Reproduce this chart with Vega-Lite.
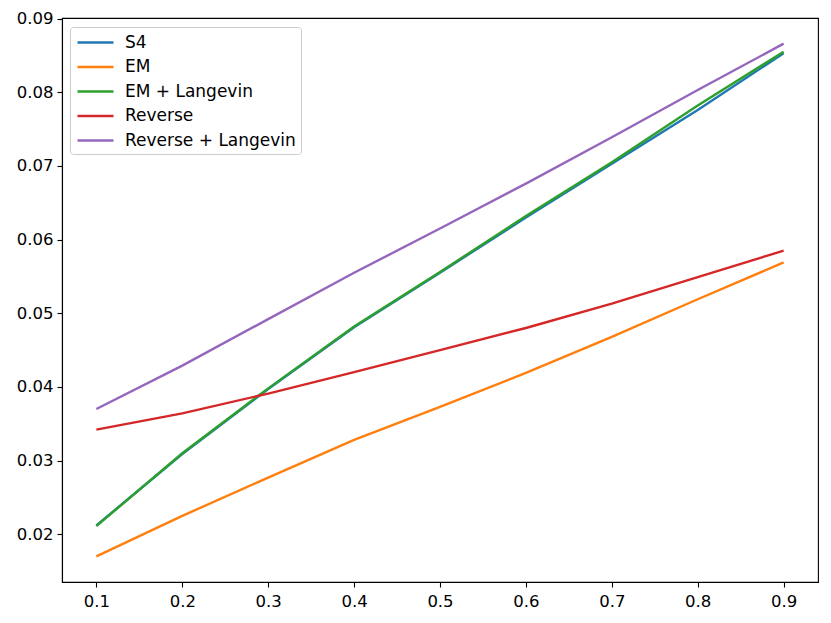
{
  "$schema": "https://vega.github.io/schema/vega-lite/v6.json",
  "width": 756,
  "height": 564,
  "autosize": {"type": "none"},
  "padding": {"left": 62, "top": 18, "right": 13, "bottom": 41},
  "background": "white",
  "config": {
    "font": "DejaVu Sans",
    "view": {"stroke": "#000000", "strokeWidth": 1.1},
    "axis": {
      "domainColor": "#000000",
      "domainWidth": 1.1,
      "tickColor": "#000000",
      "tickWidth": 1.1,
      "tickSize": 5,
      "labelFontSize": 16.5,
      "labelColor": "#000000",
      "labelFont": "DejaVu Sans",
      "labelPadding": 4,
      "grid": false,
      "title": null
    },
    "axisX": {"labelPadding": 6},
    "legend": {
      "labelFont": "DejaVu Sans",
      "labelFontSize": 17,
      "labelColor": "#000000"
    }
  },
  "data": {
    "values": [
      {"x": 0.1, "series": "S4", "y": 0.0212},
      {"x": 0.2, "series": "S4", "y": 0.0309},
      {"x": 0.3, "series": "S4", "y": 0.0397},
      {"x": 0.4, "series": "S4", "y": 0.0481},
      {"x": 0.5, "series": "S4", "y": 0.0555},
      {"x": 0.6, "series": "S4", "y": 0.0630},
      {"x": 0.7, "series": "S4", "y": 0.0703},
      {"x": 0.8, "series": "S4", "y": 0.0776},
      {"x": 0.9, "series": "S4", "y": 0.0853},
      {"x": 0.1, "series": "EM", "y": 0.0170},
      {"x": 0.2, "series": "EM", "y": 0.0225},
      {"x": 0.3, "series": "EM", "y": 0.0277},
      {"x": 0.4, "series": "EM", "y": 0.0328},
      {"x": 0.5, "series": "EM", "y": 0.0373},
      {"x": 0.6, "series": "EM", "y": 0.0419},
      {"x": 0.7, "series": "EM", "y": 0.0468},
      {"x": 0.8, "series": "EM", "y": 0.0519},
      {"x": 0.9, "series": "EM", "y": 0.0569},
      {"x": 0.1, "series": "EM + Langevin", "y": 0.0211},
      {"x": 0.2, "series": "EM + Langevin", "y": 0.0310},
      {"x": 0.3, "series": "EM + Langevin", "y": 0.0398},
      {"x": 0.4, "series": "EM + Langevin", "y": 0.0482},
      {"x": 0.5, "series": "EM + Langevin", "y": 0.0556},
      {"x": 0.6, "series": "EM + Langevin", "y": 0.0632},
      {"x": 0.7, "series": "EM + Langevin", "y": 0.0705},
      {"x": 0.8, "series": "EM + Langevin", "y": 0.0782},
      {"x": 0.9, "series": "EM + Langevin", "y": 0.0855},
      {"x": 0.1, "series": "Reverse", "y": 0.0342},
      {"x": 0.2, "series": "Reverse", "y": 0.0364},
      {"x": 0.3, "series": "Reverse", "y": 0.0391},
      {"x": 0.4, "series": "Reverse", "y": 0.0420},
      {"x": 0.5, "series": "Reverse", "y": 0.0450},
      {"x": 0.6, "series": "Reverse", "y": 0.0480},
      {"x": 0.7, "series": "Reverse", "y": 0.0513},
      {"x": 0.8, "series": "Reverse", "y": 0.0549},
      {"x": 0.9, "series": "Reverse", "y": 0.0585},
      {"x": 0.1, "series": "Reverse + Langevin", "y": 0.0370},
      {"x": 0.2, "series": "Reverse + Langevin", "y": 0.0429},
      {"x": 0.3, "series": "Reverse + Langevin", "y": 0.0492},
      {"x": 0.4, "series": "Reverse + Langevin", "y": 0.0555},
      {"x": 0.5, "series": "Reverse + Langevin", "y": 0.0615},
      {"x": 0.6, "series": "Reverse + Langevin", "y": 0.0676},
      {"x": 0.7, "series": "Reverse + Langevin", "y": 0.0739},
      {"x": 0.8, "series": "Reverse + Langevin", "y": 0.0803},
      {"x": 0.9, "series": "Reverse + Langevin", "y": 0.0866}
    ]
  },
  "mark": {"type": "line", "strokeWidth": 2.4, "clip": true},
  "encoding": {
    "x": {
      "field": "x",
      "type": "quantitative",
      "scale": {"domain": [0.06, 0.94], "nice": false, "zero": false},
      "axis": {"values": [0.1, 0.2, 0.3, 0.4, 0.5, 0.6, 0.7, 0.8, 0.9], "format": ".1f"}
    },
    "y": {
      "field": "y",
      "type": "quantitative",
      "scale": {"domain": [0.01352, 0.09008], "nice": false, "zero": false},
      "axis": {"values": [0.02, 0.03, 0.04, 0.05, 0.06, 0.07, 0.08, 0.09], "format": ".2f"}
    },
    "color": {
      "field": "series",
      "type": "nominal",
      "scale": {
        "domain": ["S4", "EM", "EM + Langevin", "Reverse", "Reverse + Langevin"],
        "range": ["#1f77b4", "#ff7f0e", "#2ca02c", "#d62728", "#9467bd"]
      },
      "legend": {
        "title": null,
        "orient": "none",
        "legendX": 8,
        "legendY": 9,
        "symbolType": "M-2,0H2",
        "symbolSize": 324,
        "symbolStrokeWidth": 2.4,
        "symbolOffset": 10,
        "labelOffset": 19,
        "labelLimit": 400,
        "rowPadding": 5.5,
        "padding": 5,
        "strokeColor": "#cccccc",
        "fillColor": "#ffffff",
        "cornerRadius": 3
      }
    }
  }
}
